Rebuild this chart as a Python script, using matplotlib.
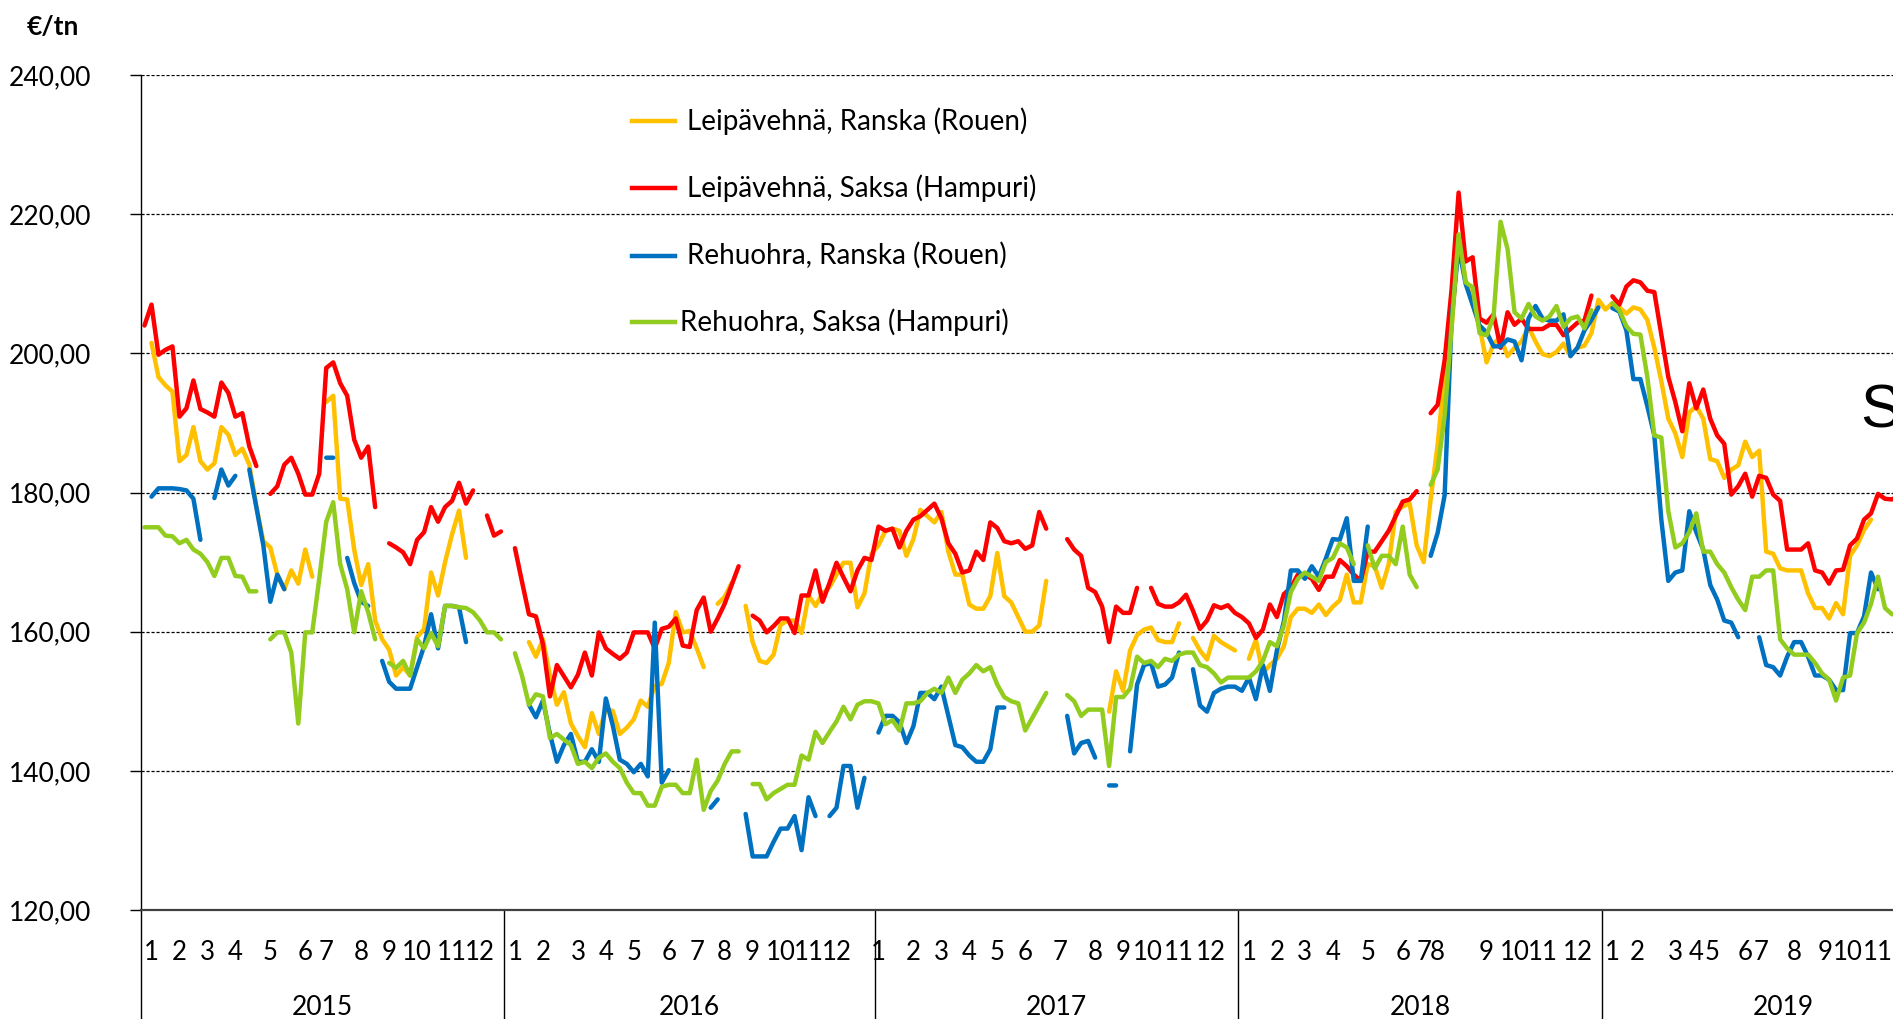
import numpy as np
import matplotlib.pyplot as plt
from matplotlib.lines import Line2D

nan = np.nan

# weekly prices, one list per year (2015: 52 wk, 2016: 53 wk, 2017-2018: 52 wk, 2019 partly visible)
years = ['2015', '2016', '2017', '2018', '2019']
year_weeks = [52, 53, 52, 52, 52]

# Leipävehnä, Ranska (Rouen)
lv_fr_2015 = [nan, 201.5, 196.6, 195.4, 194.5, 184.5, 185.4, 189.4, 184.5, 183.3,
              184.2, 189.4, 188.3, 185.4, 186.3, 184.0, 178.0, 173.0, 172.1, 168.2,
              166.1, 168.8, 166.9, 171.8, 167.9, nan, 193.0, 193.9, 179.1, 179.0,
              171.8, 166.7, 169.7, 161.6, 158.9, 157.4, 153.7, 154.9, 153.7, 159.2,
              160.4, 168.5, 165.2, 170.0, 174.0, 177.4, 170.6, nan, nan, nan,
              nan, nan]
lv_fr_2016 = [nan, nan, nan, 158.5, 156.4, 158.9, 153.7, 149.5, 151.3, 146.8,
              145.0, 143.4, 148.3, 145.3, 148.9, 148.6, 145.3, 146.2, 147.4, 150.1,
              149.2, 152.2, 152.5, 155.5, 162.8, 159.9, 160.1, 157.6, 154.9, nan,
              164.0, 165.0, 167.0, nan, 163.7, 158.5, 155.8, 155.5, 156.7, 161.0,
              161.6, 161.6, 159.8, 165.2, 163.7, 165.5, 166.4, 168.2, 169.9, 169.9,
              163.5, 165.5, 171.2]
lv_fr_2017 = [172.4, 174.5, 174.8, 174.5, 170.9, 173.3, 177.5, 176.6, 175.7, 177.2,
              171.5, 168.2, 168.2, 163.9, 163.3, 163.3, 165.1, 171.3, 165.1, 164.2,
              162.1, 160.0, 160.0, 160.9, 167.3, nan, nan, nan, nan, nan,
              nan, nan, nan, 148.5, 154.3, 151.5, 157.3, 159.5, 160.3, 160.6,
              158.8, 158.5, 158.5, 161.2, nan, 159.1, 157.3, 156.0, 159.4, 158.5,
              157.9, 157.3]
lv_fr_2018 = [nan, 156.1, 158.8, 154.0, 155.2, 156.1, 157.9, 162.1, 163.3, 163.3,
              162.7, 163.9, 162.4, 163.6, 164.5, 168.2, 164.2, 164.2, 169.7, 169.4,
              166.3, 169.7, 177.2, 178.0, 178.4, 172.4, 170.0, 179.0, 186.9, 197.2,
              203.8, 216.8, 210.5, 207.1, 203.8, 198.7, 201.4, 202.3, 199.6, 200.8,
              201.7, 203.8, 201.7, 199.9, 199.6, 200.2, 201.4, 199.6, 200.8, 201.1,
              202.9, 207.7]
lv_fr_2019 = [206.3, 207.2, 206.6, 205.7, 206.6, 206.3, 204.8, 200.8, 196.0, 190.6,
              188.5, 185.1, 191.5, 192.4, 190.6, 184.8, 184.5, 182.1, 183.3, 183.9,
              187.3, 185.1, 186.0, 171.5, 171.2, 169.1, 168.8, 168.8, 168.8, 165.5,
              163.4, 163.4, 161.9, 164.1, 162.5, 170.9, 172.4, 174.6, 176.1, nan,
              nan, nan, nan]

# Leipävehnä, Saksa (Hampuri)
lv_de_2015 = [204.0, 207.0, 199.8, 200.5, 201.0, 190.9, 192.1, 196.1, 192.0, 191.5,
              190.9, 195.8, 194.3, 190.9, 191.4, 186.6, 183.8, nan, 179.8, 180.9,
              184.0, 185.0, 182.7, 179.7, 179.7, 182.7, 197.9, 198.7, 195.7, 193.9,
              187.6, 185.0, 186.6, 177.9, nan, 172.7, 172.1, 171.4, 169.7, 173.2,
              174.3, 177.9, 175.8, 177.9, 178.8, 181.4, 178.4, 180.3, nan, 176.7,
              173.8, 174.4]
lv_de_2016 = [nan, 172.0, 167.2, 162.5, 162.2, 158.2, 150.7, 155.2, 153.6, 152.0,
              153.8, 157.0, 153.7, 159.9, 157.6, 156.8, 156.1, 157.0, 159.9, 159.9,
              159.9, 157.6, 160.4, 160.7, 161.9, 158.0, 157.8, 163.1, 164.9, 160.0,
              161.9, 164.0, 166.7, 169.4, nan, 162.3, 161.6, 159.9, 160.8, 161.9,
              161.9, 159.8, 165.2, 165.2, 168.8, 164.3, 167.0, 169.9, 167.8, 165.8,
              168.8, 170.6, 170.3]
lv_de_2017 = [175.1, 174.5, 174.8, 172.1, 174.5, 176.1, 176.6, 177.5, 178.4, 176.3,
              172.7, 171.2, 168.5, 168.8, 171.5, 170.3, 175.7, 174.9, 173.0, 172.7,
              173.0, 171.9, 172.4, 177.2, 174.8, nan, nan, 173.3, 171.8, 170.9,
              166.3, 165.7, 163.6, 158.5, 163.6, 162.7, 162.7, 166.3, nan, 166.3,
              164.0, 163.6, 163.6, 164.2, 165.3, 163.0, 160.4, 161.6, 163.8, 163.4,
              163.8, 162.7]
lv_de_2018 = [162.1, 161.2, 159.1, 160.3, 163.9, 162.1, 165.4, 166.3, 168.2, 168.2,
              167.6, 166.0, 167.9, 167.9, 170.3, 169.4, 168.2, 167.3, 171.5, 171.5,
              173.0, 174.5, 176.6, 178.7, 179.0, 180.2, nan, 191.4, 192.6, 199.0,
              209.2, 223.1, 213.2, 213.8, 205.0, 204.4, 205.6, 200.8, 205.9, 204.1,
              205.0, 203.5, 203.5, 203.5, 204.1, 204.1, 202.6, 203.5, 204.4, 204.7,
              208.3, nan]
lv_de_2019 = [nan, 208.2, 207.0, 209.6, 210.5, 210.2, 209.0, 208.8, 202.7, 196.6,
              193.0, 188.8, 195.7, 192.1, 194.8, 190.6, 188.2, 187.0, 179.7, 180.9,
              182.7, 179.4, 182.4, 182.1, 179.7, 178.8, 171.8, 171.8, 171.8, 172.7,
              168.8, 168.5, 166.9, 168.8, 168.9, 172.4, 173.4, 176.1, 177.0, 179.8,
              179.1, 179.0, 179.5]

# Rehuohra, Ranska (Rouen)
ro_fr_2015 = [nan, 179.4, 180.6, 180.6, 180.6, 180.5, 180.3, 179.1, 173.2, nan,
              179.2, 183.3, 181.0, 182.4, nan, 183.3, 177.9, 172.4, 164.3, 168.2,
              166.1, nan, nan, nan, nan, nan, 185.0, 185.0, nan, 170.6,
              167.0, 164.3, 163.7, nan, 155.8, 152.8, 151.8, 151.8, 151.8, 154.9,
              157.9, 162.5, 157.6, 163.7, 163.7, 163.5, 158.5, nan, nan, nan,
              nan, nan]
ro_fr_2016 = [nan, nan, nan, 149.5, 147.7, 150.1, 145.3, 141.3, 143.7, 145.3,
              141.3, 141.3, 143.1, 141.3, 150.4, 146.5, 141.6, 141.0, 139.8, 141.0,
              139.2, 161.3, 138.3, 140.1, nan, nan, nan, nan, nan, 134.7,
              135.9, nan, nan, nan, 133.8, 127.7, 127.7, 127.7, 129.8, 131.7,
              131.7, 133.5, 128.6, 136.2, 133.5, nan, 133.5, 134.7, 140.7, 140.7,
              134.7, 139.0, nan]
ro_fr_2017 = [145.5, 147.9, 147.9, 147.0, 144.0, 146.4, 151.2, 151.2, 150.3, 152.1,
              147.9, 143.7, 143.4, 142.2, 141.3, 141.3, 143.1, 149.1, 149.1, nan,
              nan, nan, nan, nan, nan, nan, nan, 147.9, 142.5, 144.0,
              144.3, 141.9, nan, 137.9, 137.9, nan, 142.8, 152.4, 155.2, 155.5,
              152.1, 152.4, 153.4, 157.0, nan, 154.6, 149.4, 148.5, 151.2, 151.8,
              152.1, 152.1]
ro_fr_2018 = [151.5, 153.4, 150.3, 155.2, 151.5, 157.3, 161.5, 168.8, 168.8, 167.6,
              169.4, 167.9, 170.5, 173.3, 173.2, 176.3, 167.3, 167.3, 175.1, nan,
              nan, nan, nan, nan, nan, nan, nan, 170.9, 174.2, 179.6,
              205.0, 215.3, 210.0, 207.0, 204.0, 203.0, 201.0, 201.0, 202.0, 201.7,
              199.0, 205.0, 206.8, 205.0, 204.7, 204.7, 205.6, 199.6, 200.8, 203.3,
              204.8, 206.6]
ro_fr_2019 = [nan, 206.5, 206.0, 203.3, 196.3, 196.3, 192.4, 188.2, 176.1, 167.3,
              168.5, 168.8, 177.3, 174.3, 171.8, 166.7, 164.6, 161.6, 161.3, 159.2,
              nan, nan, 159.2, 155.2, 154.9, 153.7, 156.4, 158.5, 158.5, 156.4,
              153.7, 153.7, 153.1, 151.6, 151.6, 159.8, 159.8, 162.2, 168.5, 166.1,
              nan, nan, nan]

# Rehuohra, Saksa (Hampuri)
ro_de_2015 = [175.0, 175.0, 175.0, 173.8, 173.7, 172.7, 173.2, 171.8, 171.2, 170.0,
              168.0, 170.6, 170.6, 168.0, 167.9, 165.8, 165.8, nan, 158.9, 159.9,
              159.9, 157.0, 146.8, 159.9, 159.9, 167.6, 175.8, 178.6, 169.7, 166.1,
              159.9, 165.8, 162.8, 158.9, nan, 155.5, 154.8, 155.8, 153.7, 158.9,
              157.6, 159.8, 157.9, 163.7, 163.7, 163.5, 163.4, 162.8, 161.6, 159.9,
              159.9, 158.9]
ro_de_2016 = [nan, 156.9, 153.7, 149.5, 151.0, 150.7, 144.7, 145.3, 144.5, 143.7,
              141.0, 141.3, 140.4, 141.9, 142.5, 141.3, 140.4, 138.3, 136.8, 136.8,
              135.0, 135.0, 137.7, 138.0, 138.0, 136.8, 136.8, 141.6, 134.4, 137.1,
              138.6, 141.0, 142.8, 142.8, nan, 138.1, 138.1, 135.9, 136.8, 137.4,
              138.0, 138.0, 142.2, 141.6, 145.6, 144.0, 145.6, 147.1, 149.2, 147.4,
              149.5, 150.0, 150.0]
ro_de_2017 = [149.7, 146.7, 147.3, 145.8, 149.7, 149.7, 150.0, 151.2, 151.8, 151.2,
              153.4, 151.2, 153.1, 154.0, 155.2, 154.3, 154.9, 152.4, 150.6, 150.0,
              149.7, 145.8, 147.6, 149.4, 151.2, nan, nan, 150.9, 150.0, 147.9,
              148.8, 148.8, 148.8, 140.7, 150.6, 150.6, 151.8, 156.4, 155.5, 155.8,
              154.9, 156.1, 155.8, 156.7, 157.0, 157.0, 155.2, 154.9, 154.0, 152.7,
              153.4, 153.4]
ro_de_2018 = [153.4, 153.4, 154.3, 155.8, 158.5, 157.9, 160.9, 165.7, 167.6, 168.5,
              167.9, 167.3, 170.0, 170.6, 172.7, 172.1, 169.7, nan, 172.4, 169.1,
              170.9, 170.9, 169.7, 175.1, 168.2, 166.4, nan, 181.1, 183.3, 191.1,
              203.8, 217.1, 210.2, 209.5, 202.9, 202.6, 205.3, 218.9, 215.0, 205.9,
              205.0, 207.1, 205.3, 204.7, 205.3, 206.8, 203.8, 205.0, 205.3, 203.6,
              206.2, nan]
ro_de_2019 = [nan, 207.2, 206.2, 203.9, 202.8, 202.7, 196.6, 188.2, 187.9, 177.3,
              172.1, 172.7, 174.3, 177.0, 171.5, 171.5, 169.7, 168.5, 166.4, 164.6,
              163.1, 167.9, 167.9, 168.8, 168.8, 158.9, 157.6, 156.7, 156.7, 156.7,
              155.5, 154.0, 153.1, 150.1, 153.4, 153.7, 159.8, 161.3, 164.0, 167.9,
              163.4, 162.5, 162.5]

# week index (from first week of 2015) under which each month number is written
month_labels = [str(m) for m in range(1, 13)]
month_pos_2015 = [1, 5, 9, 13, 18, 23, 26, 31, 35, 39, 44, 48]
month_pos_2016 = [53, 57, 62, 66, 70, 75, 79, 83, 87, 91, 95, 99]
month_pos_2017 = [105, 110, 114, 118, 122, 126, 131, 136, 140, 143.5, 148, 152.5]
month_pos_2018 = [158, 162, 166, 170, 175, 180, 183, 185, 192, 196, 200, 205]
month_pos_2019 = [210, 213.5, 219, 222, 224.2, 229, 231.2, 236, 240.5, 243.7, 248, 253]

series = [
    ('Leipävehnä, Ranska (Rouen)', '#FFC000',
     lv_fr_2015 + lv_fr_2016 + lv_fr_2017 + lv_fr_2018 + lv_fr_2019),
    ('Leipävehnä, Saksa (Hampuri)', '#FF0000',
     lv_de_2015 + lv_de_2016 + lv_de_2017 + lv_de_2018 + lv_de_2019),
    ('Rehuohra, Ranska (Rouen)', '#0070C0',
     ro_fr_2015 + ro_fr_2016 + ro_fr_2017 + ro_fr_2018 + ro_fr_2019),
    ('Rehuohra, Saksa (Hampuri)', '#92CC1E',
     ro_de_2015 + ro_de_2016 + ro_de_2017 + ro_de_2018 + ro_de_2019),
]
month_pos = [month_pos_2015, month_pos_2016, month_pos_2017, month_pos_2018, month_pos_2019]

plt.rcParams['font.family'] = ['Lato', 'DejaVu Sans']

W, H = 1893, 1019
fig = plt.figure(figsize=(W / 100, H / 100), dpi=100)
total_weeks = sum(year_weeks)
ax = fig.add_axes([141 / W, 1 - 910 / H, total_weeks * 6.99 / W, 835 / H])

for name, col, vals in series:
    v = np.array(vals, dtype=float)
    ax.plot(np.arange(len(v)), v, color=col, lw=3.2, solid_joinstyle='round',
            solid_capstyle='round')

ax.set_xlim(-0.5, total_weeks - 0.5)
ax.set_ylim(120, 240)
ax.set_yticks(np.arange(120, 241, 20))
ax.set_yticklabels([f"{v:.2f}".replace('.', ',') for v in np.arange(120, 241, 20)])
ax.tick_params(axis='y', length=8, width=1, pad=28, labelsize=19, color='black')
ax.set_xticks([])
ax.yaxis.grid(True, color='black', linestyle=(0, (2.5, 1.5)), linewidth=0.9)
ax.set_axisbelow(True)
for s in ['top', 'right']:
    ax.spines[s].set_visible(False)
ax.spines['left'].set_linewidth(1.0)
ax.spines['bottom'].set_color('#404040')
ax.spines['bottom'].set_linewidth(1.6)

# category labels: months and years, with year dividers
tr = ax.get_xaxis_transform()
start = 0
for yr, n, mp in zip(years, year_weeks, month_pos):
    for p, lab in zip(mp, month_labels):
        ax.text(p, -0.0503, lab, transform=tr, ha='center', va='center',
                fontsize=18.5, clip_on=False)
    ax.text(start + n / 2 - 0.5, -0.117, yr, transform=tr, ha='center',
            va='center', fontsize=19, clip_on=False)
    ax.plot([start - 0.5, start - 0.5], [0, -0.14], transform=tr, color='black',
            lw=1.0, clip_on=False)
    start += n

fig.text(27 / W, 1 - 27 / H, '€/tn', fontsize=19, fontweight='bold', va='center', ha='left')

# legend drawn by hand (no frame)
leg_y = [120.7, 188.3, 255.7, 322.3]
leg_tx = [687, 687, 687, 680]
for (name, col, _), yy, tx in zip(series, leg_y, leg_tx):
    fig.add_artist(Line2D([632 / W, 675 / W], [1 - yy / H, 1 - yy / H],
                          transform=fig.transFigure, color=col, lw=3.2))
    fig.text(tx / W, 1 - yy / H, name, fontsize=20, va='center', ha='left')

fig.text(1860 / W, 1 - 427 / H, 'S', fontsize=44, family=['Liberation Sans', 'DejaVu Sans'],
         va='baseline', ha='left')

fig.savefig('out.png', dpi=100)
